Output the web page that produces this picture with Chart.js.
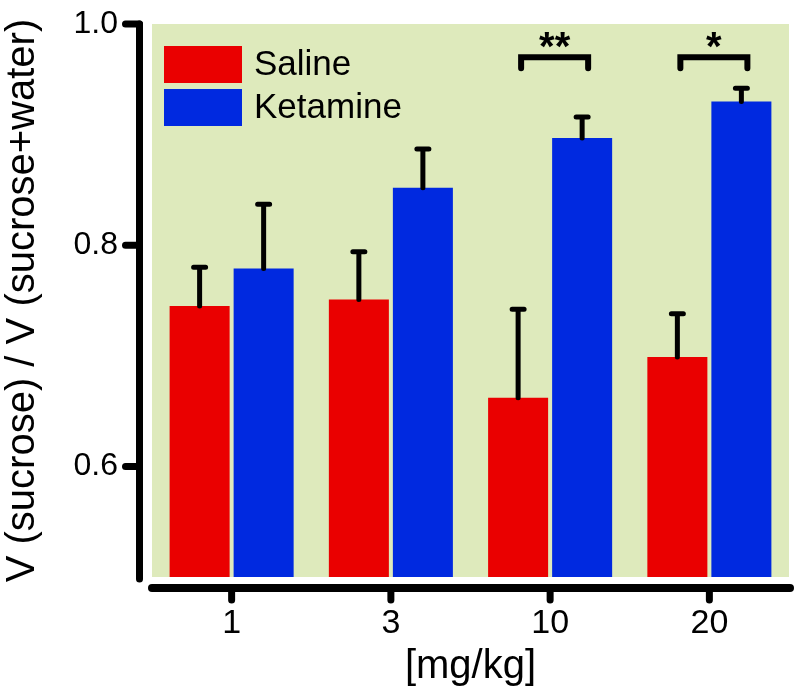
<!DOCTYPE html>
<html>
<head>
<meta charset="utf-8">
<script src="https://cdn.jsdelivr.net/npm/chart.js@4"></script>
<style>
  body { margin: 0; background: #fff; }
  #wrap { width: 800px; height: 699px; }
</style>
</head>
<body>
<div id="wrap"><canvas id="myChart" width="800" height="699"></canvas></div>
<script>
// data
const doses = ['1', '3', '10', '20'];
const salineMean = [0.745, 0.751, 0.662, 0.699];
const salineErr = [0.035, 0.043, 0.080, 0.039];
const ketamineMean = [0.779, 0.852, 0.897, 0.930];
const ketamineErr = [0.058, 0.035, 0.019, 0.012];
const yTicks = [0.6, 0.8, 1.0];
const sigDose = [2, 3];
const sigText = ['**', '*'];
const sigLevel = 0.970;

const FONT = '"Liberation Sans", Arial, sans-serif';
const RED = '#ea0000';
const BLUE = '#0029e0';

//Hintergrund + Achsen + Fehlerbalken
const prismPlugin = {
  id: 'prism',
  beforeDraw(chart) {
    const a = chart.chartArea;
    const ctx = chart.ctx;
    ctx.save();
    ctx.fillStyle = '#deeabc';
    ctx.fillRect(a.left, a.top, a.right - a.left, a.bottom - a.top);
    ctx.restore();
  },
  afterDraw(chart) {
    const ctx = chart.ctx;
    const a = chart.chartArea;
    const x = chart.scales.x;
    const y = chart.scales.y;
    ctx.save();
    ctx.strokeStyle = '#000';
    ctx.lineCap = 'round';

    // y axis with stubs
    ctx.lineWidth = 7;
    const ax = a.left - 12.5;
    ctx.beginPath();
    ctx.moveTo(ax, y.getPixelForValue(y.max));
    ctx.lineTo(ax, a.bottom + 2);
    ctx.stroke();
    yTicks.forEach(function (v) {
      const py = y.getPixelForValue(v);
      ctx.beginPath();
      ctx.moveTo(ax - 14, py);
      ctx.lineTo(ax, py);
      ctx.stroke();
    });

    // x axis with stubs
    ctx.lineWidth = 8;
    const ay = a.bottom + 11;
    ctx.beginPath();
    ctx.moveTo(a.left, ay);
    ctx.lineTo(a.right + 1, ay);
    ctx.stroke();
    ctx.lineWidth = 7;
    doses.forEach(function (d, i) {
      const px = x.getPixelForValue(i);
      ctx.beginPath();
      ctx.moveTo(px, ay);
      ctx.lineTo(px, ay + 12);
      ctx.stroke();
    });

    // error bars (upper only)
    ctx.lineWidth = 5;
    const errs = [salineErr, ketamineErr];
    chart.data.datasets.forEach(function (ds, di) {
      const meta = chart.getDatasetMeta(di);
      meta.data.forEach(function (bar, i) {
        const top = y.getPixelForValue(ds.data[i] + errs[di][i]);
        ctx.beginPath();
        ctx.moveTo(bar.x, bar.y);
        ctx.lineTo(bar.x, top);
        ctx.moveTo(bar.x - 6, top);
        ctx.lineTo(bar.x + 6, top);
        ctx.stroke();
      });
    });

    // significance brackets
    ctx.lineWidth = 6;
    ctx.fillStyle = '#000';
    ctx.font = 'bold 40px ' + FONT;
    ctx.textAlign = 'center';
    ctx.textBaseline = 'alphabetic';
    sigDose.forEach(function (i, k) {
      const x1 = chart.getDatasetMeta(0).data[i].x + 3;
      const x2 = chart.getDatasetMeta(1).data[i].x + 6;
      const by = y.getPixelForValue(sigLevel);
      ctx.beginPath();
      ctx.moveTo(x1, by + 11);
      ctx.lineTo(x1, by);
      ctx.lineTo(x2, by);
      ctx.lineTo(x2, by + 11);
      ctx.stroke();
      ctx.fillText(sigText[k], (x1 + x2) / 2, by + 3);
    });

    // legend inside plot
    ctx.font = '35px ' + FONT;
    ctx.textAlign = 'left';
    ctx.textBaseline = 'middle';
    chart.data.datasets.forEach(function (ds, di) {
      const lx = a.left + 12;
      const ly = a.top + 22 + di * 43;
      ctx.fillStyle = ds.backgroundColor;
      ctx.fillRect(lx, ly, 78, 37);
      ctx.fillStyle = '#000';
      ctx.fillText(ds.label, lx + 90, ly + 19);
    });
    ctx.restore();
  }
};

const ctx = document.getElementById('myChart').getContext('2d');
const myChart = new Chart(ctx, {
  type: 'bar',
  data: {
    labels: doses,
    datasets: [
      { label: 'Saline', data: salineMean, backgroundColor: RED, borderWidth: 0 },
      { label: 'Ketamine', data: ketamineMean, backgroundColor: BLUE, borderWidth: 0 }
    ]
  },
  options: {
    responsive: false,
    animation: false,
    layout: { padding: { left: 0, right: 11, top: 24, bottom: 0 } },
    datasets: {
      bar: { categoryPercentage: 0.804, barPercentage: 0.9375 }
    },
    plugins: {
      legend: { display: false },
      tooltip: { enabled: false }
    },
    scales: {
      x: {
        grid: { display: false, drawTicks: false },
        border: { display: false },
        ticks: { color: '#000', padding: 26, font: { family: FONT, size: 34 } },
        title: {
          display: true,
          text: '[mg/kg]',
          color: '#000',
          font: { family: FONT, size: 40, lineHeight: 1 },
          padding: { top: 0, bottom: 12 }
        },
        afterFit: function (scale) {
          scale.height = 122;
          scale.paddingLeft = 0;
          scale.paddingRight = 0;
        }
      },
      y: {
        min: 0.5,
        max: 1.0,
        grid: { display: false, drawTicks: false },
        border: { display: false },
        afterBuildTicks: function (scale) {
          scale.ticks = yTicks.map(function (v) { return { value: v }; });
        },
        ticks: {
          color: '#000',
          padding: 34,
          font: { family: FONT, size: 32 },
          callback: function (v) { return v.toFixed(1); }
        },
        title: {
          display: true,
          text: 'V (sucrose) / V (sucrose+water)',
          color: '#000',
          font: { family: FONT, size: 40, lineHeight: 1 },
          padding: { top: 3, bottom: 0 }
        },
        afterFit: function (scale) {
          scale.width = 152;
          scale.paddingTop = 0;
          scale.paddingBottom = 0;
        }
      }
    }
  },
  plugins: [prismPlugin]
});
</script>
</body>
</html>
